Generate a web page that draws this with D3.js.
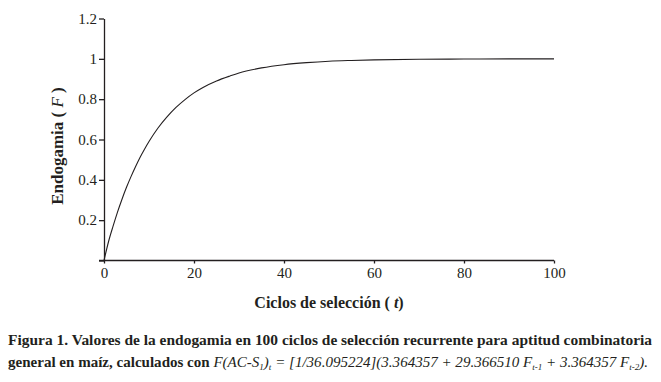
<!DOCTYPE html>
<html>
<head>
<meta charset="utf-8">
<script src="https://cdn.jsdelivr.net/npm/d3@7"></script>
<style>
  body { margin: 0; background: #fff; }
</style>
</head>
<body>
<div id="chart"></div>
<script>
// values
const cycles = [0, 1, 2, 3, 4, 5, 6, 7, 8, 9, 10, 12, 14, 16, 18, 20, 22, 25, 28, 30, 35, 40, 45, 50, 55, 60, 70, 80, 90, 100];
const endogamia = [0, 0.093, 0.169, 0.24, 0.304, 0.363, 0.416, 0.465, 0.511, 0.552, 0.590, 0.657, 0.712, 0.759, 0.798, 0.831, 0.858, 0.890, 0.915, 0.930, 0.955, 0.971, 0.981, 0.988, 0.992, 0.995, 0.998, 0.999, 1.0, 1.0];
const xTicks = [0, 20, 40, 60, 80, 100];
const yTicks = [0, 0.2, 0.4, 0.6, 0.8, 1, 1.2];

const width = 661, height = 382;
const margin = {top: 18.5, right: 107, bottom: 121.5, left: 104};
const serif = "'Liberation Serif', 'Times New Roman', serif";
const ink = "#231f20";

const svg = d3.select("#chart")
    .append("svg")
    .attr("width", width)
    .attr("height", height)
    .style("font-family", serif);

const x = d3.scaleLinear().domain([0, 100]).range([margin.left, width - margin.right]);
const y = d3.scaleLinear().domain([0, 1.2]).range([height - margin.bottom, margin.top]);

// x axis
const xAxis = svg.append("g")
    .attr("transform", `translate(0, ${y(0)})`)
    .call(d3.axisBottom(x).tickValues(xTicks).tickSize(3).tickSizeOuter(0).tickPadding(4));
xAxis.select(".domain").attr("d", `M${x(0) - 5},0H${x(100)}`);

// y axis
const yAxis = svg.append("g")
    .attr("transform", `translate(${x(0)}, 0)`)
    .call(d3.axisLeft(y).tickValues(yTicks).tickSize(5).tickSizeOuter(0).tickPadding(2)
        .tickFormat(d => d === 0 ? "" : d3.format("~g")(d)));

svg.selectAll(".domain, .tick line").attr("stroke", ink).attr("stroke-width", 1.3);
svg.selectAll(".tick text")
    .style("font-family", serif)
    .style("font-size", "15px")
    .attr("fill", ink);

// curve
const line = d3.line()
    .x((d, i) => x(cycles[i]))
    .y(d => y(d))
    .curve(d3.curveMonotoneX);

svg.append("path")
    .datum(endogamia)
    .attr("d", line)
    .attr("fill", "none")
    .attr("stroke", ink)
    .attr("stroke-width", 1.1);

// axis titles
const yTitle = svg.append("text")
    .attr("transform", `translate(63, 146) rotate(-90)`)
    .attr("text-anchor", "middle")
    .attr("fill", ink)
    .style("font-family", serif)
    .style("font-size", "17px")
    .style("font-weight", "bold");
yTitle.append("tspan").text("Endogamia ( ");
yTitle.append("tspan").style("font-style", "italic").style("font-weight", "normal").text("F");
yTitle.append("tspan").text(" )");

const xTitle = svg.append("text")
    .attr("x", 329)
    .attr("y", 308)
    .attr("text-anchor", "middle")
    .attr("fill", ink)
    .style("font-family", serif)
    .style("font-size", "16px")
    .style("font-weight", "bold");
xTitle.append("tspan").text("Ciclos de selección ( ");
xTitle.append("tspan").style("font-style", "italic").text("t");
xTitle.append("tspan").text(")");

// caption
svg.append("text")
    .attr("x", 8)
    .attr("y", 345)
    .attr("textLength", 644)
    .attr("lengthAdjust", "spacingAndGlyphs")
    .attr("fill", ink)
    .style("font-family", serif)
    .style("font-size", "15px")
    .style("font-weight", "bold")
    .text("Figura 1. Valores de la endogamia en 100 ciclos de selección recurrente para aptitud combinatoria");

const cap2 = svg.append("text")
    .attr("x", 8)
    .attr("y", 367)
    .attr("fill", ink)
    .style("font-family", serif)
    .style("font-size", "15px")
    .style("font-weight", "bold");

const capParts = [
    {t: "general en maíz, calculados con ", it: false},
    {t: "F(AC-S", it: true},
    {t: "1", it: true, sub: true},
    {t: ")", it: true},
    {t: "t", it: true, sub: true},
    {t: " =  [1/36.095224](3.364357 + 29.366510 F", it: true},
    {t: "t-1", it: true, sub: true},
    {t: " + 3.364357 F", it: true},
    {t: "t-2", it: true, sub: true},
    {t: ").", it: true}
];
let wasSub = false;
capParts.forEach(p => {
    const ts = cap2.append("tspan").text(p.t);
    if (p.it) ts.style("font-style", "italic").style("font-weight", "normal");
    if (p.sub) ts.style("font-size", "9px");
    if (p.sub && !wasSub) ts.attr("dy", 3);
    if (!p.sub && wasSub) ts.attr("dy", -3);
    wasSub = !!p.sub;
});
cap2.attr("textLength", 640).attr("lengthAdjust", "spacingAndGlyphs");
</script>
</body>
</html>
